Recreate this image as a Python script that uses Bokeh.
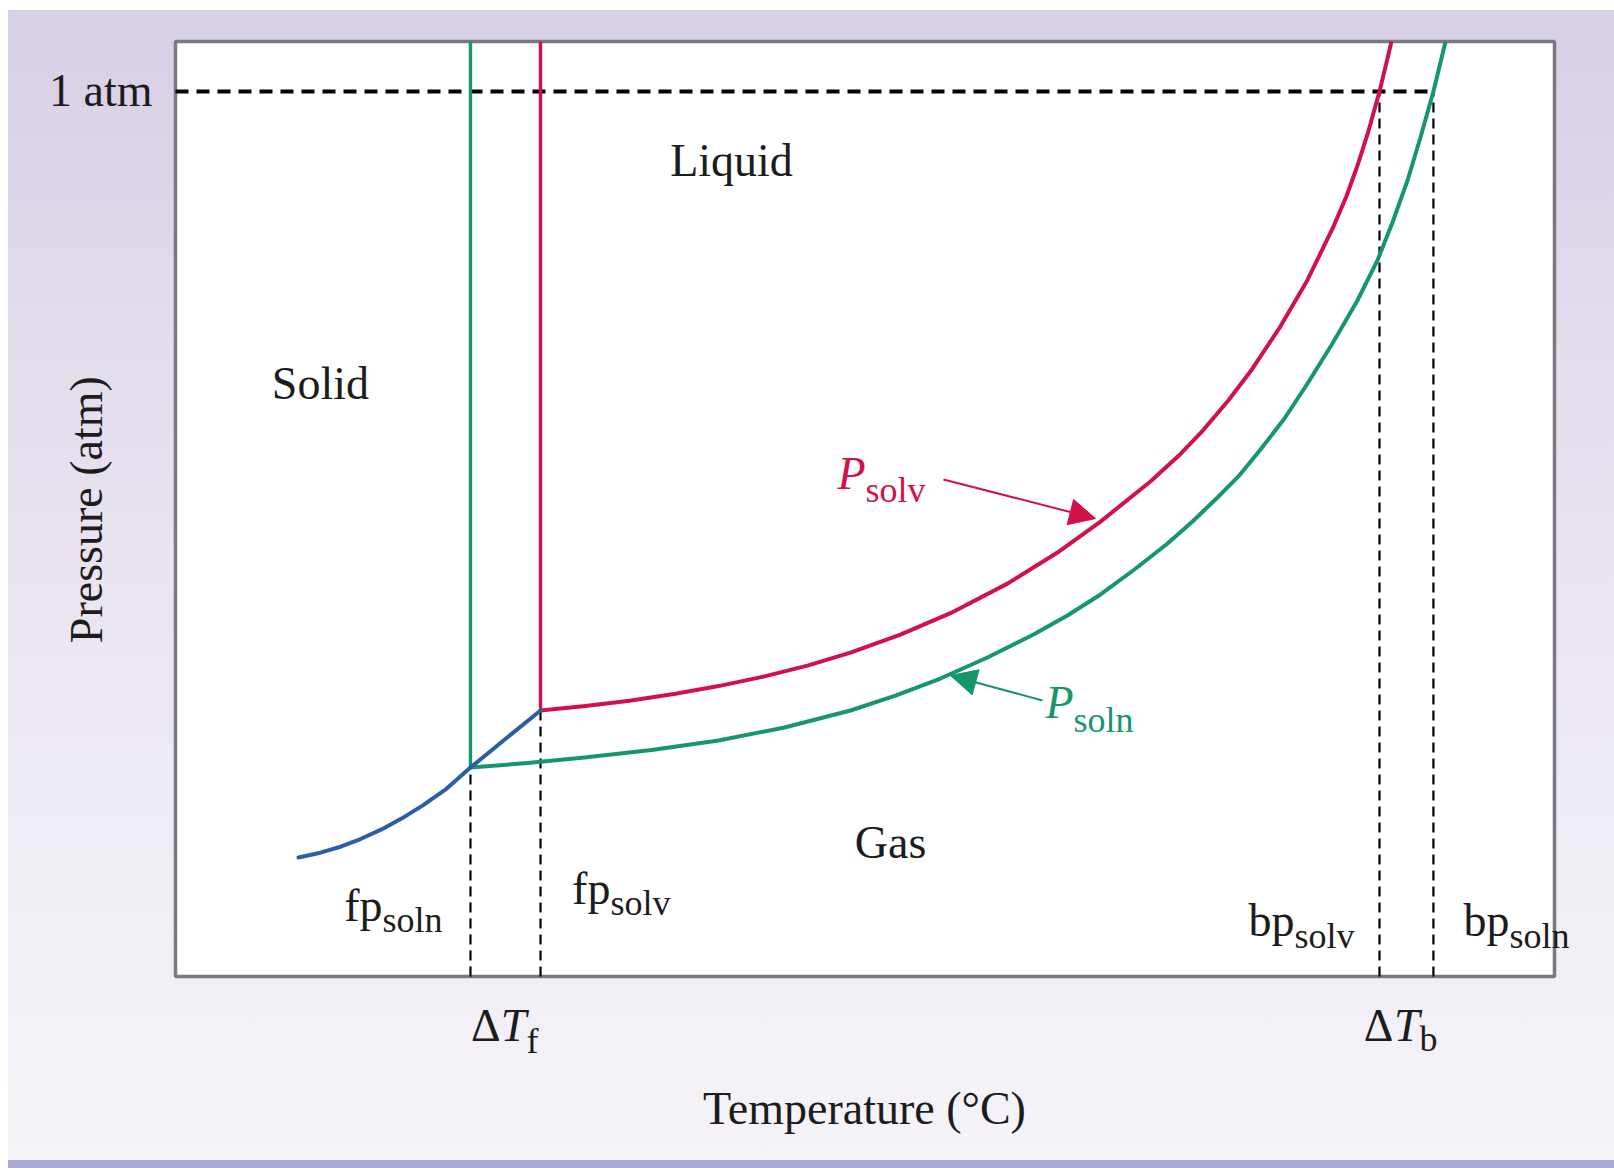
import math
from bokeh.plotting import figure
from bokeh.models import Range1d, Label, Arrow, NormalHead
from bokeh.embed import file_html
from bokeh.resources import INLINE

# ---------------- data (schematic temperature / pressure units, 0..100 box) ----------------
# solid-gas (sublimation) curve
blue_T = [8.92, 10.51, 11.97, 13.42, 14.94, 16.39, 17.91, 19.65, 21.39, 23.79, 26.47]
blue_P = [12.73, 13.24, 13.88, 14.70, 15.73, 16.89, 18.28, 20.07, 22.35, 25.24, 28.45]

# vapour-pressure curve of the pure solvent
red_T = [26.47, 29.73, 32.92, 36.26, 39.38, 42.64, 45.83, 48.95, 52.57, 56.20,
         60.33, 63.96, 67.08, 70.70, 72.88, 74.55, 76.36, 77.96, 80.13, 82.09,
         83.97, 84.92, 85.71, 86.51, 87.31, 87.74, 88.18]
red_P = [28.45, 28.93, 29.50, 30.24, 31.06, 32.07, 33.25, 34.63, 36.56, 38.86,
         42.02, 45.34, 48.65, 52.94, 55.89, 58.47, 61.63, 64.73, 69.54, 74.50,
         80.20, 83.48, 86.71, 90.42, 94.65, 97.26, 100.0]

# vapour-pressure curve of the solution
green_T = [21.39, 25.53, 29.66, 34.52, 39.38, 44.16, 48.95, 52.21, 55.47, 58.88,
           62.22, 64.68, 67.08, 69.54, 71.94, 73.75, 75.56, 77.08, 78.68, 80.42,
           82.09, 83.90, 85.71, 87.16, 88.25, 89.34, 90.28, 91.22, 92.10]
green_P = [22.35, 22.83, 23.42, 24.22, 25.24, 26.63, 28.45, 30.05, 31.87, 34.12,
           36.58, 38.61, 40.86, 43.53, 46.31, 48.66, 51.23, 53.48, 56.36, 59.68,
           63.42, 67.70, 72.30, 76.58, 80.64, 85.13, 89.73, 94.65, 100.0]

T_min, T_max = 0.0, 100.0
P_min, P_max = 0.0, 100.0
one_atm = 94.65
fp_soln, fp_solv = green_T[0], red_T[0]
bp_solv, bp_soln = 87.31, 91.22
y_tick_values = [one_atm]
y_tick_labels = ["1 atm"]
x_axis_title = "Temperature (°C)"
y_axis_title = "Pressure (atm)"

# ---------------- styles ----------------
FONT = "Liberation Serif"
INK = "#1c1c1c"
RED = "#d1124a"
GREEN = "#15976b"
BLUE = "#2c5ea8"
BIG = 46
SUB = 36

W, H = 1614, 1168
# the whole canvas is the plotting frame; the white box is the 0..100 data square
p = figure(width=W, height=H, output_backend="svg", toolbar_location=None,
           x_range=Range1d(-12.690, 104.351), y_range=Range1d(-20.535, 104.385),
           x_axis_location=None, y_axis_location=None,
           min_border_left=0, min_border_right=0, min_border_top=0, min_border_bottom=0,
           background_fill_color=None, border_fill_color=None,
           styles={"background":
                   "linear-gradient(to right, #ffffff 0px, #ffffff 8px, rgba(255,255,255,0) 8px), "
                   "linear-gradient(to bottom, #ffffff 0px, #ffffff 10px, #d7cfe4 10px, "
                   "#e5dfed 420px, #efebf4 800px, #f5f3f8 1160px, #a9aad3 1160px, #a9aad3 1168px)"})
p.grid.visible = False
p.outline_line_color = None

# plot box
p.quad(left=[T_min], right=[T_max], bottom=[P_min], top=[P_max],
       fill_color="white", line_color="#7a7980", line_width=3.5)

# dashed guide lines
p.line(x=[T_min, bp_soln], y=[one_atm, one_atm], line_color="black", line_width=3.8,
       line_dash="13 8")
p.segment(x0=[fp_soln, fp_solv, bp_solv, bp_soln], y0=[P_min] * 4,
          x1=[fp_soln, fp_solv, bp_solv, bp_soln],
          y1=[green_P[0], red_P[0], one_atm, one_atm],
          line_color="black", line_width=2.2, line_dash="10 6")

# fusion lines
p.line(x=[fp_soln, fp_soln], y=[green_P[0], P_max], line_color=GREEN, line_width=3.4)
p.line(x=[fp_solv, fp_solv], y=[red_P[0], P_max], line_color=RED, line_width=3.4)

# vapour pressure and sublimation curves
p.line(x=green_T, y=green_P, line_color=GREEN, line_width=4, line_join="round")
p.line(x=red_T, y=red_P, line_color=RED, line_width=4, line_join="round")
p.line(x=blue_T, y=blue_P, line_color=BLUE, line_width=4, line_join="round",
       line_cap="round")

# pointer arrows
p.add_layout(Arrow(end=NormalHead(size=26, fill_color=RED, line_color=RED, line_width=1),
                   x_start=55.69, y_start=53.16, x_end=66.72, y_end=48.98,
                   line_color=RED, line_width=2))
p.add_layout(Arrow(end=NormalHead(size=26, fill_color=GREEN, line_color=GREEN, line_width=1),
                   x_start=62.87, y_start=29.52, x_end=56.20, y_end=32.19,
                   line_color=GREEN, line_width=2))


def lab(x, y, text, size=BIG, align="left", style="normal", color=INK,
        angle=0.0, baseline="alphabetic"):
    p.add_layout(Label(x=x, y=y, text=text, text_font=FONT,
                       text_font_size=f"{size}px", text_align=align,
                       text_baseline=baseline, text_font_style=style,
                       text_color=color, angle=angle))


# tick label and axis titles
for v, t in zip(y_tick_values, y_tick_labels):
    lab(-1.67, v + 0.15, t, align="right")
lab(49.96, -14.11, x_axis_title, align="center")
lab(-6.46, 49.93, y_axis_title, align="center", angle=math.pi / 2, baseline="middle")

# region names
lab(40.32, 87.31, "Liquid", align="center")
lab(10.51, 63.47, "Solid", align="center")
lab(51.85, 14.38, "Gas", align="center")

# freezing / boiling point labels (base + subscript)
lab(15.01, 7.62, "fp", align="right")
lab(15.01, 6.03, "soln", size=SUB)
lab(31.54, 9.44, "fp", align="right")
lab(31.54, 7.84, "solv", size=SUB)
lab(81.15, 6.01, "bp", align="right")
lab(81.15, 4.29, "solv", size=SUB)
lab(96.74, 6.01, "bp", align="right")
lab(96.74, 4.29, "soln", size=SUB)

# delta T labels
lab(25.45, -5.24, "T", align="right", style="italic")
lab(23.57, -5.24, "Δ", align="right")
lab(25.45, -6.85, "f", size=SUB)
lab(90.21, -5.24, "T", align="right", style="italic")
lab(88.32, -5.24, "Δ", align="right")
lab(90.21, -6.64, "b", size=SUB)

# curve names
lab(50.04, 53.81, "P", align="right", style="italic", color=RED)
lab(50.04, 52.00, "solv", size=SUB, color=RED)
lab(65.12, 29.30, "P", align="right", style="italic", color=GREEN)
lab(65.12, 27.38, "soln", size=SUB, color=GREEN)

open("out.html", "w").write(file_html(p, INLINE))
